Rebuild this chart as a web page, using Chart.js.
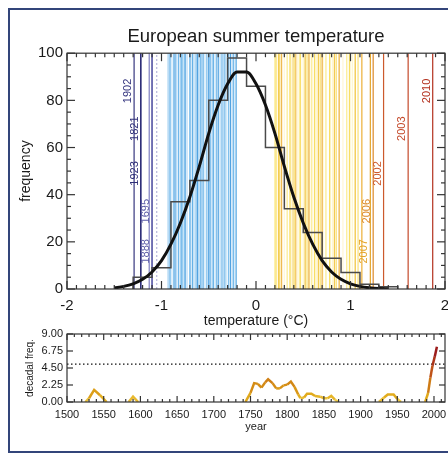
<!DOCTYPE html>
<html>
<head>
<meta charset="utf-8">
<script src="https://cdn.jsdelivr.net/npm/chart.js@4/dist/chart.umd.min.js"></script>
<style>
html,body{margin:0;padding:0;background:#fff;width:448px;height:454px;overflow:hidden;}
#frame{position:absolute;left:8px;top:8px;width:470px;height:445px;border:2.5px solid #33457a;box-sizing:border-box;}
#main{position:absolute;left:0;top:0;width:448px;height:330px;}
#dec{position:absolute;left:0;top:320px;width:448px;height:114px;}
</style>
</head>
<body>
<div id="frame"></div>
<canvas id="main" width="448" height="330"></canvas>
<canvas id="dec" width="448" height="114"></canvas>
<script>
// ---------------- data ----------------
const binEdges  = [-1.3,-1.1,-0.9,-0.7,-0.5,-0.3,-0.1,0.1,0.3,0.5,0.7,0.9,1.1,1.3,1.5];
const binCounts = [5,9,37,46,80,98,86,60,34,24,13,7,2,1];

const fitTemps = [-1.5,-1.4,-1.3,-1.2,-1.1,-1.0,-0.9,-0.8,-0.7,-0.6,-0.5,-0.4,-0.3,-0.2,-0.1,0.0,0.1,0.2,0.3,0.4,0.5,0.6,0.7,0.8,0.9,1.0,1.1,1.2,1.3,1.4];
const fitFreq  = [0.5,1.1,2.2,4.1,7.2,12,19,28,39,52,66,78,87,92,92,87,78,66,52,39,28,19,12,7.2,4.1,2.2,1.1,0.5,0.2,0.1];

const coldExtremeYears = ['1902','1821','1923','1695','1888'];
const coldExtremeTemps = [-1.29,-1.22,-1.22,-1.10,-1.10];
const warmExtremeYears = ['2010','2003','2002','2006','2007'];
const warmExtremeTemps = [1.87,1.61,1.35,1.24,1.21];

const otherColdTemps = [-1.13,-1.05];
const coldTemps = [-0.93,-0.91,-0.89,-0.87,-0.857,-0.84,-0.82,-0.80,-0.785,-0.776,-0.76,-0.75,-0.73,-0.70,-0.69,-0.67,-0.65,-0.635,-0.62,-0.61,-0.59,-0.575,-0.56,-0.54,-0.52,-0.50,-0.49,-0.48,-0.46,-0.45,-0.43,-0.42,-0.40,-0.38,-0.36,-0.34,-0.33,-0.31,-0.29,-0.27,-0.25,-0.24,-0.22,-0.21];
const warmTemps = [0.20,0.21,0.22,0.24,0.25,0.27,0.30,0.33,0.36,0.38,0.39,0.41,0.42,0.44,0.46,0.47,0.50,0.52,0.54,0.56,0.57,0.59,0.62,0.64,0.66,0.68,0.70,0.71,0.74,0.78,0.81,0.83,0.85,0.88,0.92,0.96,0.99,1.02,1.05,1.08,1.12];

const decadeYears = [1500,1525,1530,1537,1545,1554,1584,1590,1597,1743,1750,1755,1760,1765,1770,1774,1780,1785,1790,1795,1800,1805,1810,1815,1818,1823,1827,1833,1838,1845,1850,1855,1860,1865,1870,1925,1932,1937,1945,1950,1955,1988,1992,1995,1998,2001,2004];
const decadeFreq  = [0,0,0.5,1.6,0.9,0,0,0.7,0,0,1.2,2.5,2.4,1.9,2.6,3.0,2.5,1.8,1.8,2.2,2.3,2.7,2.0,1.0,0.5,0.6,1.1,1.1,0.8,0.7,0.5,0.5,0.8,0.3,0,0,0.6,1.0,1.0,0.4,0,0,1.2,3.2,4.8,6.0,7.3];
const extremeThreshold = 5;

// ---------------- styling ----------------
const FONT = "'Liberation Sans', Arial, Helvetica, sans-serif";
Chart.defaults.font.family = FONT;
Chart.defaults.color = '#1a1a1a';

const coldExtremeColors = ['#36367f','#2f2f78','#2f2f78','#5a5aa6','#5a5aa6'];
const warmExtremeColors = ['#b3301e','#c4492a','#cc5a2c','#dc8a2a','#e3a42a'];
const blueShades = ['#a6d2f2','#62afe6','#cfe8f9','#80bfec','#52a3e1','#bcddf6','#72b8ea'];
const yellowShades = ['#fcee9e','#f8de66','#fef7d2','#f3cb52','#fae58a','#efba52','#fff8da'];

function vline(t, color, width, order, dash){
  return {type:'line', data:[{x:t,y:0},{x:t,y:100}], borderColor:color, borderWidth:width,
          pointRadius:0, order:order, borderDash:dash||[], fill:false};
}

// histogram outline: each count held from its left bin edge to the next edge
const histLine = [{x:binEdges[0], y:0}];
for (let i=0;i<binCounts.length;i++){
  histLine.push({x:binEdges[i], y:binCounts[i]});
  histLine.push({x:binEdges[i+1], y:binCounts[i]});
}
histLine.push({x:binEdges[binEdges.length-1], y:0});

const mainSets = [
  {type:'line', data: fitTemps.map((t,i)=>({x:t,y:fitFreq[i]})), borderColor:'#111', borderWidth:3,
   pointRadius:0, cubicInterpolationMode:'monotone', order:0},
  {type:'line', data: histLine, borderColor:'#4a4a4a', borderWidth:1.5, pointRadius:0, order:1}
];
coldTemps.forEach((t,i)=>mainSets.push(vline(t, blueShades[i%blueShades.length], 1.3, 3)));
warmTemps.forEach((t,i)=>mainSets.push(vline(t, yellowShades[i%yellowShades.length], 1.4, 3)));
mainSets.push(vline(otherColdTemps[0], '#7e7ec0', 1.2, 2));
mainSets.push(vline(otherColdTemps[1], '#a8a8d4', 1, 2, [2,2]));
coldExtremeTemps.forEach((t,i)=>mainSets.push(vline(t, coldExtremeColors[i], i===1||i===2?1.4:1.2, 2)));
warmExtremeTemps.forEach((t,i)=>mainSets.push(vline(t, warmExtremeColors[i], 1.2, 2)));

function frameTicks(o){
  return {id:'frameTicks', afterDatasetsDraw(chart){
    const {ctx, chartArea:a} = chart; const xs = chart.scales.x, ys = chart.scales.y;
    ctx.save(); ctx.strokeStyle = '#333'; ctx.lineWidth = 1.2;
    const seg=(x1,y1,x2,y2)=>{ctx.beginPath();ctx.moveTo(x1,y1);ctx.lineTo(x2,y2);ctx.stroke();};
    const nx = Math.round((o.xMax-o.xMin)/o.xMinor);
    for(let i=0;i<=nx;i++){ const v=o.xMin+i*o.xMinor; const p=xs.getPixelForValue(v);
      const r=(v-o.xMin)/o.xMajor; const L=Math.abs(r-Math.round(r))<1e-6?o.major:o.minor;
      seg(p,a.bottom,p,a.bottom-L); seg(p,a.top,p,a.top+L); }
    const ny = Math.round((o.yMax-o.yMin)/o.yMinor);
    for(let i=0;i<=ny;i++){ const v=o.yMin+i*o.yMinor; const p=ys.getPixelForValue(v);
      const r=(v-o.yMin)/o.yMajor; const L=Math.abs(r-Math.round(r))<1e-6?o.major:o.minor;
      seg(a.left,p,a.left+L,p); seg(a.right,p,a.right-L,p); }
    ctx.strokeRect(a.left,a.top,a.right-a.left,a.bottom-a.top);
    ctx.restore();
  }};
}

const labelLevels = [84,68,49,33,16];
const yearLabels = {id:'yearLabels', afterDatasetsDraw(chart){
  const {ctx} = chart; const xs=chart.scales.x, ys=chart.scales.y;
  ctx.save(); ctx.font = "11px " + FONT; ctx.textAlign='center'; ctx.textBaseline='bottom';
  const draw=(txt,t,lvl,col)=>{ ctx.save(); ctx.translate(xs.getPixelForValue(t)-0.5, ys.getPixelForValue(lvl));
    ctx.rotate(-Math.PI/2); ctx.fillStyle=col; ctx.fillText(txt,0,0); ctx.restore(); };
  coldExtremeYears.forEach((y,i)=>draw(y,coldExtremeTemps[i],labelLevels[i],coldExtremeColors[i]));
  warmExtremeYears.forEach((y,i)=>draw(y,warmExtremeTemps[i],labelLevels[i],warmExtremeColors[i]));
  ctx.restore();
}};

new Chart(document.getElementById('main'), {
  type:'line',
  data:{datasets: mainSets},
  options:{
    responsive:false, animation:false, events:[],
    layout:{padding:{left:0,right:3,top:0,bottom:0}},
    plugins:{legend:{display:false}, tooltip:{enabled:false},
      title:{display:true, text:'European summer temperature', fullSize:false, color:'#1a1a1a',
             font:{family:FONT,size:18.5,weight:'normal'}, padding:{top:26,bottom:5}}},
    scales:{
      x:{type:'linear', min:-2, max:2, border:{display:false}, grid:{display:false, drawTicks:false},
         ticks:{stepSize:1, padding:8, font:{size:15}, color:'#1a1a1a'},
         title:{display:true, text:'temperature (°C)', font:{size:14}, color:'#1a1a1a', padding:{top:0,bottom:0}},
         afterFit(s){ s.height=41; s.paddingLeft=0; s.paddingRight=0; }},
      y:{type:'linear', min:0, max:100, border:{display:false}, grid:{display:false, drawTicks:false},
         ticks:{stepSize:20, padding:4, font:{size:15}, color:'#1a1a1a'},
         title:{display:true, text:'frequency', font:{size:14}, color:'#1a1a1a', padding:{top:17.6,bottom:0}},
         afterFit(s){ s.width=67; s.paddingTop=0; s.paddingBottom=0; }}
    }
  },
  plugins:[frameTicks({xMin:-2,xMax:2,xMinor:0.1,xMajor:1,yMin:0,yMax:100,yMinor:5,yMajor:20,major:8,minor:4}), yearLabels]
});

// ---------------- decadal panel ----------------
const stops = [[0,[245,216,90]],[1,[226,172,28]],[2.5,[212,140,20]],[4.5,[196,90,24]],[7,[156,28,28]]];
function freqColor(v){
  if (v < 0.05) return 'rgba(0,0,0,0)';
  for (let i=1;i<stops.length;i++){
    if (v <= stops[i][0]){ const [a0,c0]=stops[i-1],[a1,c1]=stops[i]; const f=(v-a0)/(a1-a0);
      const c=c0.map((x,k)=>Math.round(x+(c1[k]-x)*f)); return `rgb(${c[0]},${c[1]},${c[2]})`; }
  }
  const c=stops[stops.length-1][1]; return `rgb(${c[0]},${c[1]},${c[2]})`;
}

new Chart(document.getElementById('dec'), {
  type:'line',
  data:{datasets:[
    {data: decadeYears.map((y,i)=>({x:y,y:decadeFreq[i]})), borderWidth:2.5, pointRadius:0, borderColor:'#d89a1a',
     segment:{borderColor: c=>freqColor(Math.max(c.p0.parsed.y, c.p1.parsed.y))}, order:0},
    {data:[{x:1500,y:extremeThreshold},{x:2015,y:extremeThreshold}], borderColor:'#111', borderWidth:1.3,
     borderDash:[1.5,2.5], pointRadius:0, order:1}
  ]},
  options:{
    responsive:false, animation:false, events:[],
    layout:{padding:{left:0,right:3,top:14,bottom:0}},
    plugins:{legend:{display:false}, tooltip:{enabled:false}},
    scales:{
      x:{type:'linear', min:1500, max:2015, border:{display:false}, grid:{display:false, drawTicks:false},
         ticks:{stepSize:50, includeBounds:false, padding:6, font:{size:11}, color:'#1a1a1a', callback:v=>String(v)},
         title:{display:true, text:'year', font:{size:11}, color:'#1a1a1a', padding:{top:0,bottom:0}},
         afterFit(s){ s.height=32; s.paddingLeft=0; s.paddingRight=0; }},
      y:{type:'linear', min:0, max:9, border:{display:false}, grid:{display:false, drawTicks:false},
         ticks:{stepSize:2.25, padding:4, font:{size:11}, color:'#1a1a1a', callback:v=>Number(v).toFixed(2)},
         title:{display:true, text:'decadal freq.', font:{size:10}, color:'#1a1a1a', padding:{top:24,bottom:0}},
         afterFit(s){ s.width=67; s.paddingTop=0; s.paddingBottom=0; }}
    }
  },
  plugins:[frameTicks({xMin:1500,xMax:2010,xMinor:10,xMajor:50,yMin:0,yMax:9,yMinor:2.25,yMajor:2.25,major:6,minor:3})]
});
</script>
</body>
</html>
